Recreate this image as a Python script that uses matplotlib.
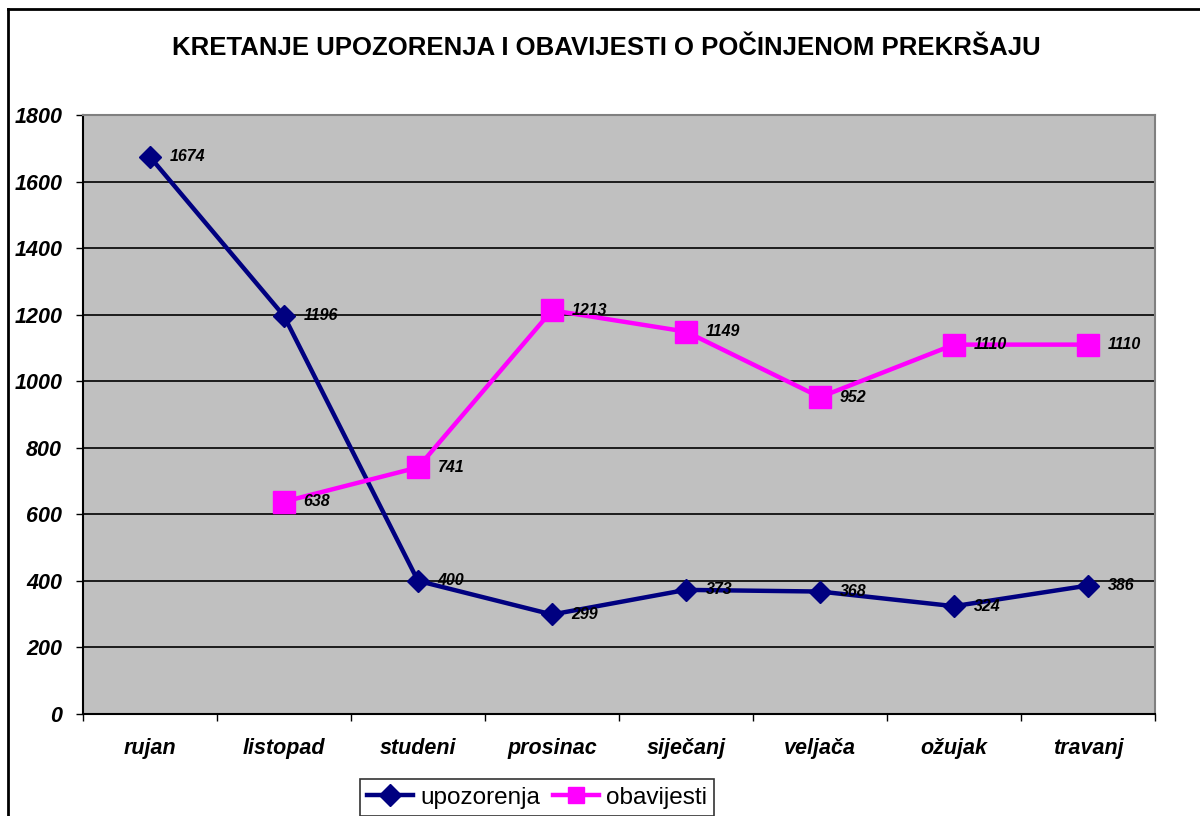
import matplotlib

matplotlib.use("Agg")
import matplotlib.pyplot as plt
import numpy as np
from matplotlib.lines import Line2D

plt.rcParams["font.family"] = ["Liberation Sans", "DejaVu Sans"]

TITLE = "KRETANJE UPOZORENJA I OBAVIJESTI O POČINJENOM PREKRŠAJU"
MONTHS = ["rujan", "listopad", "studeni", "prosinac", "siječanj", "veljača", "ožujak", "travanj"]
UPOZORENJA = [1674, 1196, 400, 299, 373, 368, 324, 386]
OBAVIJESTI = [np.nan, 638, 741, 1213, 1149, 952, 1110, 1110]
Y_TICKS = [0, 200, 400, 600, 800, 1000, 1200, 1400, 1600, 1800]

NAVY = "#000080"
MAGENTA = "#FF00FF"
PLOT_BG = "#C0C0C0"

fig = plt.figure(figsize=(12, 8.16), dpi=100)
ax = fig.add_axes([83 / 1200, 102 / 816, 1072 / 1200, 599 / 816])
ax.set_facecolor(PLOT_BG)

x = np.arange(len(MONTHS))

ax.plot(x, UPOZORENJA, color=NAVY, lw=3.2, marker="D", ms=11.5, label="upozorenja", zorder=3)
ax.plot(x, OBAVIJESTI, color=MAGENTA, lw=3.2, marker="s", ms=15.5, label="obavijesti", zorder=3)

# data labels to the right of each point
for xi, v in zip(x, UPOZORENJA):
    ax.annotate(str(v), (xi, v), xytext=(14, 0), textcoords="offset points",
                va="center", ha="left", fontsize=11.5, fontweight="bold",
                fontstyle="italic", zorder=4)
for xi, v in zip(x, OBAVIJESTI):
    if np.isnan(v):
        continue
    ax.annotate(str(int(v)), (xi, v), xytext=(14, 0), textcoords="offset points",
                va="center", ha="left", fontsize=11.5, fontweight="bold",
                fontstyle="italic", zorder=4)

ax.set_xlim(-0.5, len(MONTHS) - 0.5)
ax.set_ylim(0, 1800)
ax.set_yticks(Y_TICKS)
ax.set_yticklabels([str(t) for t in Y_TICKS], fontsize=15.5, fontweight="bold", fontstyle="italic")
ax.set_xticks(x)
ax.set_xticklabels(MONTHS, fontsize=15.5, fontweight="bold", fontstyle="italic")
ax.set_xticks(np.arange(-0.5, len(MONTHS)), minor=True)
ax.tick_params(axis="x", which="major", length=0, pad=17)
ax.tick_params(axis="x", which="minor", length=5, width=1, direction="out")
ax.tick_params(axis="y", length=5, width=1, direction="out", pad=10)

ax.grid(axis="y", color="black", lw=1.2, zorder=1)
ax.set_axisbelow(True)

ax.spines["top"].set_color("#808080")
ax.spines["right"].set_color("#808080")
ax.spines["left"].set_color("black")
ax.spines["bottom"].set_color("black")
for s in ax.spines.values():
    s.set_linewidth(1.5)

fig.text(606 / 1200, 1 - 48 / 816, TITLE, ha="center", va="center",
         fontsize=18.5, fontweight="bold")

leg = ax.legend(loc="lower center", bbox_to_anchor=(537 / 1200, 0),
                bbox_transform=fig.transFigure, ncol=2, fontsize=17.5,
                frameon=True, fancybox=False, edgecolor="black",
                handlelength=1.9, handletextpad=0.3, columnspacing=0.5,
                borderpad=0.3, borderaxespad=0)
leg.get_frame().set_linewidth(1.2)
for h in leg.legend_handles:
    h.set_markersize(11)

# outer chart frame (runs off right and bottom)
fig.add_artist(Line2D([8 / 1200, 8 / 1200], [0, 1 - 9 / 816], transform=fig.transFigure,
                      color="black", lw=2))
fig.add_artist(Line2D([8 / 1200, 1], [1 - 9 / 816, 1 - 9 / 816], transform=fig.transFigure,
                      color="black", lw=2))

fig.savefig("out.png", dpi=100)
